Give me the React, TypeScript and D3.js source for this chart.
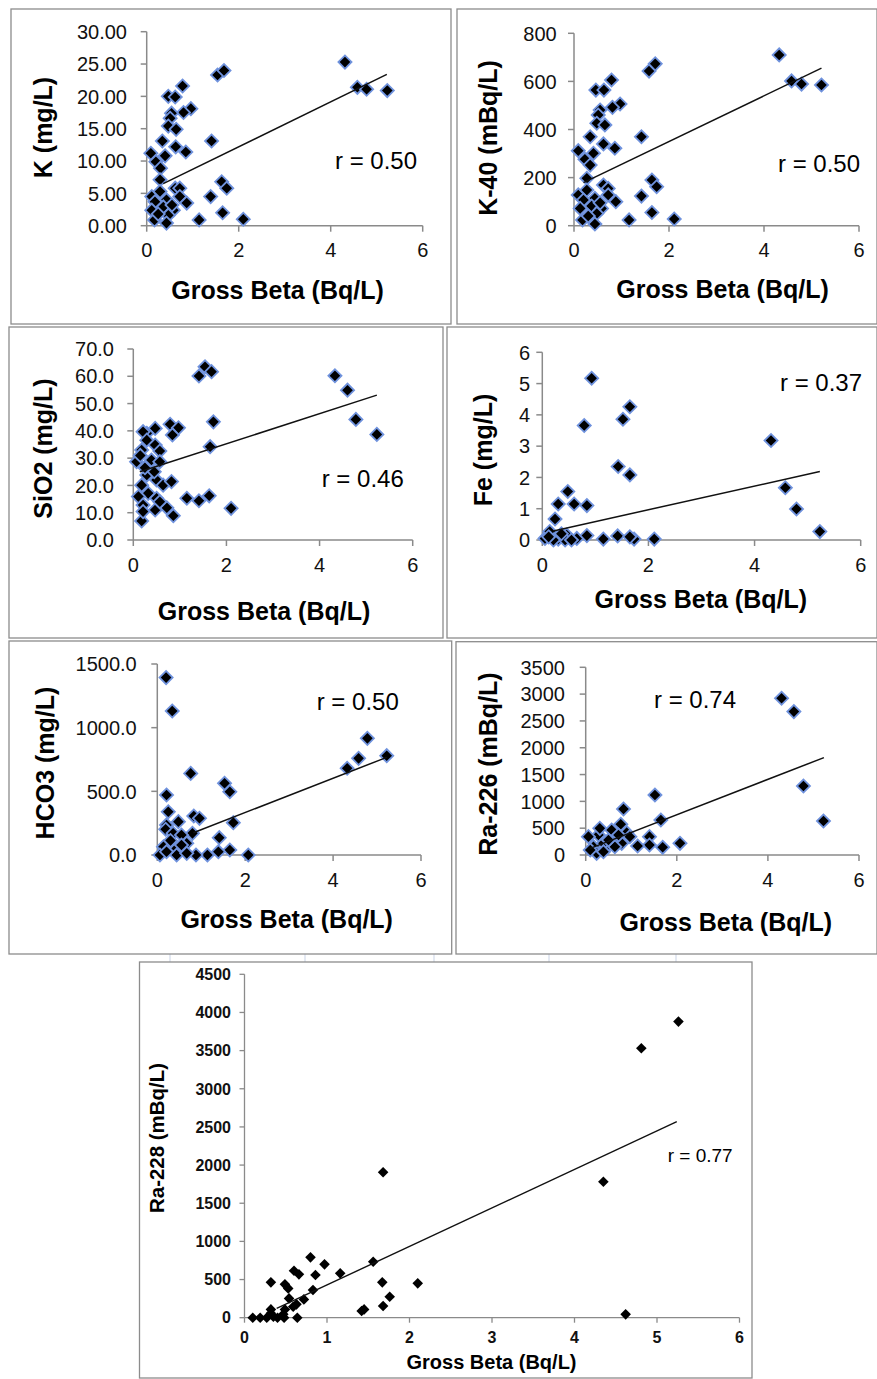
import React from "react";
import * as d3 from "d3";

type Pt = [number, number];

const FONT = "'Liberation Sans', Arial, Helvetica, sans-serif";

// gross beta ticks
const betaTicksCoarse = [0, 2, 4, 6];
const betaTicksFine = [0, 1, 2, 3, 4, 5, 6];

// K (mg/L)
const kPoints: Pt[] = [
  [4.31, 25.3], [4.58, 21.4], [4.78, 21.1], [5.23, 20.9], [1.54, 23.3], [1.68, 24.0],
  [0.78, 21.6], [0.47, 20.0], [0.62, 19.9], [0.96, 18.1], [0.8, 17.5], [0.54, 17.4],
  [0.51, 16.6], [0.47, 15.4], [0.64, 14.9], [0.34, 13.1], [1.41, 13.1], [0.63, 12.2],
  [0.85, 11.4], [0.09, 11.2], [0.4, 10.8], [0.2, 9.9], [0.3, 8.9], [0.29, 7.1],
  [0.11, 4.5], [0.29, 5.3], [0.62, 5.8], [0.72, 5.8], [0.72, 4.5], [0.87, 3.5],
  [0.43, 4.0], [0.36, 2.9], [0.18, 3.7], [0.11, 2.4], [0.58, 2.4], [0.47, 1.6],
  [0.17, 0.9], [0.43, 0.4], [1.14, 0.9], [2.1, 1.0], [1.39, 4.5], [1.63, 6.8],
  [1.74, 5.8], [1.65, 2.0], [0.55, 3.2], [0.25, 1.8],
];
const kTrend: Pt[] = [[0.36, 6.5], [5.22, 23.4]];

// K-40 (mBq/L)
const k40Points: Pt[] = [
  [4.32, 710], [4.58, 602], [4.79, 589], [5.21, 585], [1.58, 643], [1.71, 673],
  [0.79, 606], [0.46, 564], [0.63, 564], [0.97, 506], [0.81, 492], [0.55, 481],
  [0.51, 460], [0.48, 426], [0.65, 419], [0.34, 370], [1.42, 370], [0.62, 340],
  [0.86, 322], [0.09, 312], [0.41, 301], [0.23, 276], [0.34, 252], [0.27, 197],
  [0.09, 128], [0.27, 148], [0.62, 169], [0.72, 155], [0.72, 128], [0.88, 100],
  [0.44, 114], [0.37, 82], [0.2, 107], [0.13, 72], [0.58, 72], [0.48, 51],
  [0.18, 24], [0.44, 7], [1.16, 24], [2.11, 28], [1.42, 123], [1.64, 190],
  [1.74, 162], [1.64, 55], [0.55, 95], [0.3, 40],
];
const k40Trend: Pt[] = [[0.2, 179], [5.21, 655]];

// SiO2 (mg/L)
const sio2Points: Pt[] = [
  [4.33, 60.2], [4.6, 54.9], [4.78, 44.2], [5.23, 38.7], [1.41, 60.1], [1.54, 63.5],
  [1.68, 61.7], [1.72, 43.3], [1.65, 34.2], [1.63, 16.2], [1.41, 14.4], [1.15, 15.3],
  [2.1, 11.6], [0.79, 42.4], [0.97, 41.1], [0.84, 38.5], [0.47, 40.9], [0.29, 39.1],
  [0.21, 39.7], [0.29, 36.6], [0.47, 34.8], [0.57, 32.6], [0.18, 33.0], [0.07, 28.7],
  [0.39, 29.3], [0.57, 28.7], [0.29, 23.8], [0.5, 22.0], [0.64, 20.1], [0.82, 21.4],
  [0.18, 20.1], [0.32, 17.1], [0.11, 15.9], [0.5, 15.3], [0.21, 12.8], [0.72, 11.8],
  [0.47, 11.0], [0.86, 8.9], [0.18, 7.0], [0.21, 10.4], [0.57, 14.0], [0.25, 26.5],
  [0.45, 25.0], [0.15, 31.0],
];
const sio2Trend: Pt[] = [[0.14, 25.0], [5.23, 53.1]];

// Fe (mg/L)
const fePoints: Pt[] = [
  [0.93, 5.17], [0.79, 3.66], [1.52, 3.86], [1.65, 4.26], [4.31, 3.18], [1.43, 2.35],
  [1.65, 2.08], [4.58, 1.67], [4.79, 0.99], [5.23, 0.27], [0.48, 1.55], [0.3, 1.15],
  [0.6, 1.15], [0.84, 1.1], [0.24, 0.67], [0.05, 0.05], [0.3, 0.03], [0.14, 0.27],
  [0.46, 0.16], [0.65, 0.05], [0.84, 0.14], [1.15, 0.03], [1.42, 0.13], [1.73, 0.03],
  [1.65, 0.1], [2.11, 0.03], [0.43, 0.0], [0.55, 0.0], [0.21, 0.0], [0.36, 0.2],
  [0.12, 0.1],
];
const feTrend: Pt[] = [[0.21, 0.29], [5.23, 2.19]];

// HCO3 (mg/L)
const hco3Points: Pt[] = [
  [0.2, 1393], [0.34, 1131], [4.78, 916], [5.22, 780], [4.58, 759], [4.32, 681],
  [0.76, 641], [1.53, 563], [1.65, 497], [0.21, 471], [0.25, 340], [0.83, 306],
  [0.96, 288], [0.48, 262], [1.73, 254], [0.21, 236], [0.19, 202], [0.36, 170],
  [0.8, 170], [0.55, 157], [1.41, 136], [0.3, 113], [0.67, 92], [0.14, 65],
  [0.44, 52], [1.65, 39], [1.39, 26], [1.14, 0], [0.88, 0], [2.07, 0],
  [0.06, 0], [0.44, 0], [0.67, 13], [0.21, 26], [0.55, 78],
];
const hco3Trend: Pt[] = [[0.82, 175], [5.22, 767]];

// Ra-226 (mBq/L)
const ra226Points: Pt[] = [
  [4.3, 2923], [4.57, 2674], [4.78, 1287], [5.22, 634], [1.52, 1119], [1.65, 653],
  [0.83, 858], [0.77, 572], [0.9, 417], [1.4, 342], [1.4, 187], [1.69, 143],
  [2.07, 218], [1.14, 168], [0.79, 218], [0.61, 292], [0.46, 155], [0.28, 373],
  [0.06, 342], [0.31, 497], [0.57, 466], [0.17, 155], [0.39, 218], [0.24, 31],
  [0.1, 93], [0.72, 373], [0.97, 342], [0.64, 155], [0.39, 62], [0.5, 280],
];
const ra226Trend: Pt[] = [[0.1, 124], [5.23, 1816]];

// Ra-228 (mBq/L)
const ra228Points: Pt[] = [
  [5.26, 3880], [4.81, 3530], [4.35, 1782], [4.62, 44], [1.68, 1905], [1.56, 734],
  [1.67, 463], [1.76, 275], [1.68, 153], [2.1, 450], [1.45, 109], [1.42, 87],
  [1.16, 581], [0.97, 699], [0.8, 791], [0.86, 559], [0.83, 363], [0.6, 616],
  [0.66, 568], [0.32, 463], [0.49, 437], [0.53, 384], [0.72, 240], [0.54, 253],
  [0.63, 175], [0.59, 144], [0.32, 109], [0.49, 109], [0.64, 0], [0.1, 0],
  [0.19, 0], [0.27, 0], [0.35, 13], [0.4, 0], [0.48, 0], [0.32, 57], [0.47, 44],
];
const ra228Trend: Pt[] = [[0.39, 122], [5.24, 2569]];

const classic = {
  marker: 86, markerStroke: "#6f92dd", markerStrokeW: 1.8,
  axis: "#8a8a8a", axisW: 1.5, tickLen: 6,
  tickFont: 20, tickWeight: 400, titleFont: 25, rFont: 24, trendW: 1.5,
};
const sheet = {
  marker: 56, markerStroke: "none", markerStrokeW: 0,
  axis: "#8a8a8a", axisW: 1.3, tickLen: 5,
  tickFont: 16, tickWeight: 700, titleFont: 20, rFont: 19, trendW: 1.4,
};

const panels = [
  { frame: [11, 9, 451, 324], xr: [146.7, 422.7], yr: [225.7, 31.7], yMax: 30, yStep: 5, fmt: ".2f",
    xTicks: betaTicksCoarse, yLabelX: 127, xLabelY: 257, yTitle: "K (mg/L)", yTitleAt: [42.5, 127.5],
    xTitleAt: [277.5, 299], r: "r = 0.50", rAt: [335, 169], points: kPoints, trend: kTrend, look: classic },
  { frame: [457, 9, 877, 324], xr: [574, 859], yr: [225.7, 33.3], yMax: 800, yStep: 200, fmt: "d",
    xTicks: betaTicksCoarse, yLabelX: 556.7, xLabelY: 257, yTitle: "K-40 (mBq/L)", yTitleAt: [488, 138],
    xTitleAt: [722.5, 298], r: "r = 0.50", rAt: [778, 172], points: k40Points, trend: k40Trend, look: classic },
  { frame: [9, 327, 443, 638], xr: [133.3, 412.7], yr: [540, 349], yMax: 70, yStep: 10, fmt: ".1f",
    xTicks: betaTicksCoarse, yLabelX: 114, xLabelY: 572, yTitle: "SiO2 (mg/L)", yTitleAt: [42.5, 448.5],
    xTitleAt: [264, 620], r: "r = 0.46", rAt: [321.7, 486.7], points: sio2Points, trend: sio2Trend, look: classic },
  { frame: [447, 327, 877, 638], xr: [542.3, 860.7], yr: [540, 352.3], yMax: 6, yStep: 1, fmt: "d",
    xTicks: betaTicksCoarse, yLabelX: 530, xLabelY: 572, yTitle: "Fe (mg/L)", yTitleAt: [482.5, 450],
    xTitleAt: [700.8, 608.3], r: "r = 0.37", rAt: [780, 390.7], points: fePoints, trend: feTrend, look: classic },
  { frame: [9, 641, 451.7, 954], xr: [157.3, 421], yr: [855, 664], yMax: 1500, yStep: 500, fmt: ".1f",
    xTicks: betaTicksCoarse, yLabelX: 136.7, xLabelY: 887, yTitle: "HCO3 (mg/L)", yTitleAt: [45, 763],
    xTitleAt: [286.7, 928.3], r: "r = 0.50", rAt: [316.7, 710], points: hco3Points, trend: hco3Trend, look: classic },
  { frame: [456, 641.7, 877, 954], xr: [585.7, 859], yr: [855, 667.3], yMax: 3500, yStep: 500, fmt: "d",
    xTicks: betaTicksCoarse, yLabelX: 565, xLabelY: 887, yTitle: "Ra-226 (mBq/L)", yTitleAt: [488, 764],
    xTitleAt: [725.8, 930.7], r: "r = 0.74", rAt: [654, 708.3], points: ra226Points, trend: ra226Trend, look: classic },
  { frame: [139.5, 962, 752, 1378], xr: [244.5, 739.5], yr: [1317.7, 974.3], yMax: 4500, yStep: 500, fmt: "d",
    xTicks: betaTicksFine, yLabelX: 231, xLabelY: 1343, yTitle: "Ra-228 (mBq/L)", yTitleAt: [157, 1138],
    xTitleAt: [491.5, 1369], r: "r = 0.77", rAt: [667.7, 1162], points: ra228Points, trend: ra228Trend, look: sheet,
    yTitleLen: 150 },
];

// faint spreadsheet cell lines showing between the rows
const sheetLines = [170, 305, 434, 549, 676];

function Panel({ p }: { p: any }) {
  const L = p.look;
  const x = d3.scaleLinear().domain([0, 6]).range(p.xr);
  const y = d3.scaleLinear().domain([0, p.yMax]).range(p.yr);
  const yTicks = d3.range(0, p.yMax + p.yStep / 2, p.yStep);
  const fmt = d3.format(p.fmt);
  const line = d3.line<Pt>().x((d) => x(d[0])).y((d) => y(d[1]));
  const marker = d3.symbol(d3.symbolSquare, L.marker)() as string;
  const [fx0, fy0, fx1, fy1] = p.frame;
  const ax = x(0);
  const ay = y(0);

  return (
    <g fontFamily={FONT}>
      <rect x={fx0} y={fy0} width={fx1 - fx0} height={fy1 - fy0} fill="#fff" stroke="#8c8c8c" strokeWidth={1.3} />
      {/* axes */}
      <line x1={ax} x2={ax} y1={y(p.yMax)} y2={ay} stroke={L.axis} strokeWidth={L.axisW} />
      <line x1={ax} x2={x(6)} y1={ay} y2={ay} stroke={L.axis} strokeWidth={L.axisW} />
      {yTicks.map((t: number) => (
        <g key={"y" + t}>
          <line x1={ax - L.tickLen} x2={ax} y1={y(t)} y2={y(t)} stroke={L.axis} strokeWidth={L.axisW} />
          <text x={p.yLabelX} y={y(t)} dy="0.36em" textAnchor="end" fontSize={L.tickFont}
            fontWeight={L.tickWeight} fill="#111">{fmt(t)}</text>
        </g>
      ))}
      {p.xTicks.map((t: number) => (
        <g key={"x" + t}>
          <line x1={x(t)} x2={x(t)} y1={ay} y2={ay + L.tickLen} stroke={L.axis} strokeWidth={L.axisW} />
          <text x={x(t)} y={p.xLabelY} textAnchor="middle" fontSize={L.tickFont}
            fontWeight={L.tickWeight} fill="#111">{t}</text>
        </g>
      ))}
      {/* points */}
      {p.points.map((d: Pt, i: number) => (
        <path key={i} d={marker} transform={`translate(${x(d[0])},${y(d[1])}) rotate(45)`}
          fill="#000" stroke={L.markerStroke} strokeWidth={L.markerStrokeW} />
      ))}
      <path d={line(p.trend) as string} fill="none" stroke="#111" strokeWidth={L.trendW} />
      {/* titles */}
      <text transform={`translate(${p.yTitleAt[0]},${p.yTitleAt[1]}) rotate(-90)`} dy="0.36em"
        textAnchor="middle" fontSize={L.titleFont} fontWeight={700} fill="#000"
        textLength={p.yTitleLen} lengthAdjust={p.yTitleLen ? "spacingAndGlyphs" : undefined}>{p.yTitle}</text>
      <text x={p.xTitleAt[0]} y={p.xTitleAt[1]} textAnchor="middle" fontSize={L.titleFont}
        fontWeight={700} fill="#000">Gross Beta (Bq/L)</text>
      <text x={p.rAt[0]} y={p.rAt[1]} fontSize={L.rFont} fill="#000">{p.r}</text>
    </g>
  );
}

export default function App() {
  return (
    <svg width={877} height={1379} style={{ position: "absolute", left: 0, top: 0, background: "#fff" }}>
      <rect width={877} height={1379} fill="#fff" />
      {sheetLines.map((lx) => (
        <line key={lx} x1={lx} x2={lx} y1={954} y2={962} stroke="#c9d3e6" strokeWidth={1} />
      ))}
      {panels.map((p, i) => (
        <Panel key={i} p={p} />
      ))}
    </svg>
  );
}
